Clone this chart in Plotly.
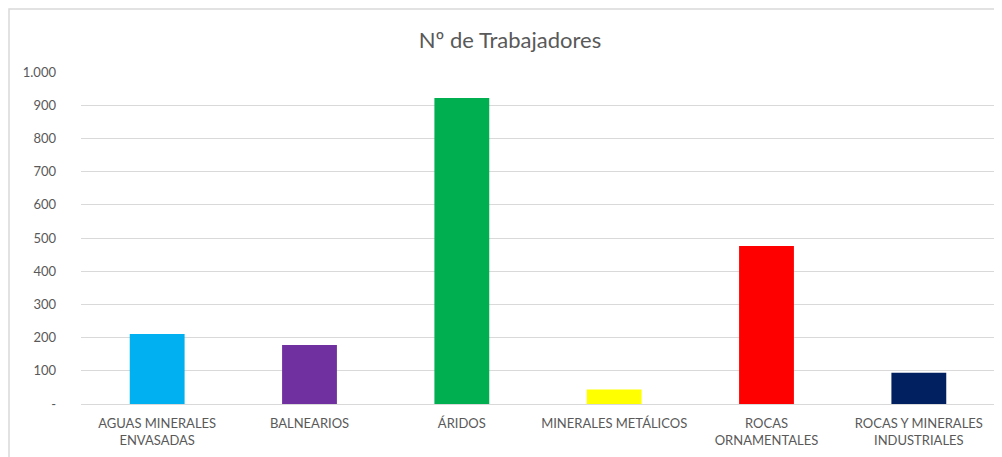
import plotly.graph_objects as go

# datos
categorias = ["AGUAS MINERALES<br>ENVASADAS", "BALNEARIOS", "ÁRIDOS",
              "MINERALES METÁLICOS", "ROCAS<br>ORNAMENTALES",
              "ROCAS Y MINERALES<br>INDUSTRIALES"]
trabajadores = [211, 178, 922, 44, 476, 94]
colores = ["#00b0f0", "#7030a0", "#00b050", "#ffff00", "#ff0000", "#002060"]

tick_vals = [0, 100, 200, 300, 400, 500, 600, 700, 800, 900, 1000]
tick_text = ["-", "100", "200", "300", "400", "500", "600", "700", "800", "900", "1.000"]

gris = "#595959"
fuente = "Lato, 'Open Sans', sans-serif"

fig = go.Figure()
fig.add_trace(go.Bar(x=categorias, y=trabajadores, marker_color=colores,
                     marker_line_width=0, hoverinfo="x+y"))

# la pagina deja 8px de margen en el body, se compensa aqui
off = 8
W, H = 1002 - off, 457 - off
ml, mr, mt, mb = 81 - off, 7, 72 - off, 53
pw, ph = W - ml - mr, H - mt - mb

fig.update_layout(
    width=W, height=H,
    margin=dict(l=ml, r=mr, t=mt, b=mb),
    paper_bgcolor="white", plot_bgcolor="white",
    font=dict(family=fuente, color=gris, size=13),
    title=dict(text="Nº de Trabajadores", x=(510 - off) / W, xanchor="center",
               y=1 - (40 - off) / H, yanchor="middle",
               font=dict(size=22, color=gris, family=fuente)),
    bargap=0.64,
    showlegend=False,
)
fig.update_yaxes(range=[0, 1000], tickvals=tick_vals, ticktext=tick_text,
                 showgrid=True, gridcolor="#d9d9d9", gridwidth=1,
                 zeroline=True, zerolinecolor="#d9d9d9", zerolinewidth=1,
                 showline=False, ticks="", ticklabelstandoff=24,
                 tickfont=dict(size=13, color=gris))
fig.update_xaxes(showline=False, ticks="", showgrid=False,
                 ticklabelstandoff=10,
                 tickfont=dict(size=13, color=gris), tickangle=0)

# borde del area del grafico (coordenadas de pagina)
borde_x0, borde_x1, borde_y0, borde_y1 = 9, 1010, 9, 470
fig.add_shape(type="rect", xref="paper", yref="paper",
              x0=(borde_x0 - off - ml) / pw, x1=(borde_x1 - off - ml) / pw,
              y0=(H - mb - (borde_y1 - off)) / ph, y1=(H - mb - (borde_y0 - off)) / ph,
              line=dict(color="#d9d9d9", width=1.5), layer="below")

fig.write_html("out.html")
